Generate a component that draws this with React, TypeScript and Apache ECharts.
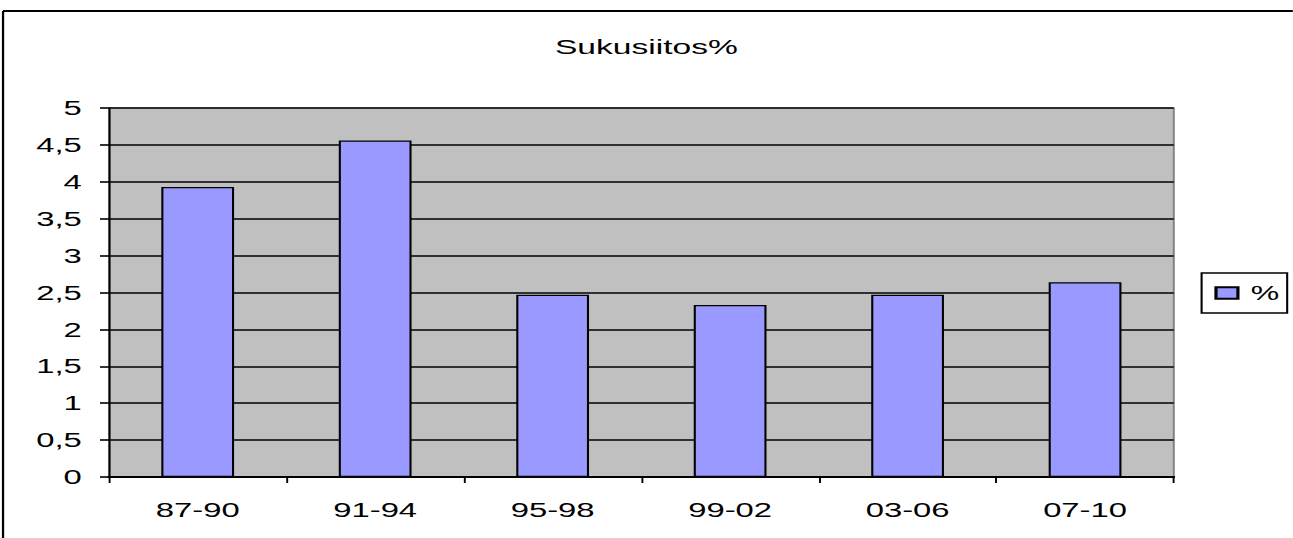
import React, { useEffect, useRef } from "react";
import * as echarts from "echarts";

const categories = ["87-90", "91-94", "95-98", "99-02", "03-06", "07-10"];
const values = [3.93, 4.56, 2.47, 2.33, 2.47, 2.64];
const seriesName = "%";
const titleText = "Sukusiitos%";

const SX = 1.6;
const W = 1293 / SX;
const H = 538;

export default function App() {
  const ref = useRef<HTMLDivElement>(null);
  useEffect(() => {
    if (!ref.current) return;
    const chart = echarts.init(ref.current, null, { renderer: "svg" });
    const font = "Liberation Sans, Arial, sans-serif";
    chart.setOption({
      animation: false,
      backgroundColor: "#ffffff",
      title: {
        text: titleText,
        left: "center",
        top: 31,
        textStyle: { fontFamily: font, fontSize: 21, fontWeight: "normal", color: "#000" },
      },
      legend: {
        data: [seriesName],
        left: 751,
        top: 273,
        orient: "vertical",
        padding: [10, 5, 10, 8],
        borderColor: "#000",
        borderWidth: 1.3,
        backgroundColor: "#fff",
        itemWidth: 13.7,
        itemHeight: 11.5,
        icon: "rect",
        textStyle: { fontFamily: font, fontSize: 20, color: "#000", padding: [0, 0, 0, 3] },
      },
      grid: {
        left: 68.1,
        right: W - 733.75,
        top: 108,
        bottom: H - 477,
        show: true,
        backgroundColor: "#C0C0C0",
        borderColor: "#808080",
        borderWidth: 1.2,
      },
      xAxis: {
        type: "category",
        data: categories,
        boundaryGap: true,
        axisLine: { lineStyle: { color: "#000", width: 1.8 } },
        axisTick: { show: true, length: 6, lineStyle: { color: "#000", width: 1.2 } },
        axisLabel: { fontFamily: font, fontSize: 20.5, color: "#000", margin: 22 },
        splitLine: { show: false },
      },
      yAxis: {
        type: "value",
        min: 0,
        max: 5,
        interval: 0.5,
        axisLine: { show: true, lineStyle: { color: "#000", width: 1.2 } },
        axisTick: { show: true, length: 5.6, lineStyle: { color: "#000", width: 1.6 } },
        axisLabel: {
          fontFamily: font,
          fontSize: 20.5,
          color: "#000",
          margin: 17,
          formatter: (v: number) => String(v).replace(".", ","),
        },
        splitLine: { show: true, lineStyle: { color: "#000", width: 1.5 } },
      },
      series: [
        {
          name: seriesName,
          type: "bar",
          data: values,
          barWidth: "41%",
          itemStyle: { color: "#9999FF", borderColor: "#000", borderWidth: 1.3 },
        },
      ],
      graphic: [
        {
          type: "line",
          shape: { x1: 1.9, y1: 11, x2: W, y2: 11 },
          style: { stroke: "#000", lineWidth: 2.2 },
        },
        {
          type: "line",
          shape: { x1: 1.9, y1: 11, x2: 1.9, y2: H },
          style: { stroke: "#000", lineWidth: 1.4 },
        },
      ],
    });
    return () => chart.dispose();
  }, []);
  return (
    <div
      style={{
        position: "fixed",
        left: 0,
        top: 0,
        width: 1293,
        height: H,
        overflow: "hidden",
        background: "#fff",
      }}
    >
      <div
        ref={ref}
        style={{
          width: W,
          height: H,
          transform: `scaleX(${SX})`,
          transformOrigin: "0 0",
        }}
      />
    </div>
  );
}
